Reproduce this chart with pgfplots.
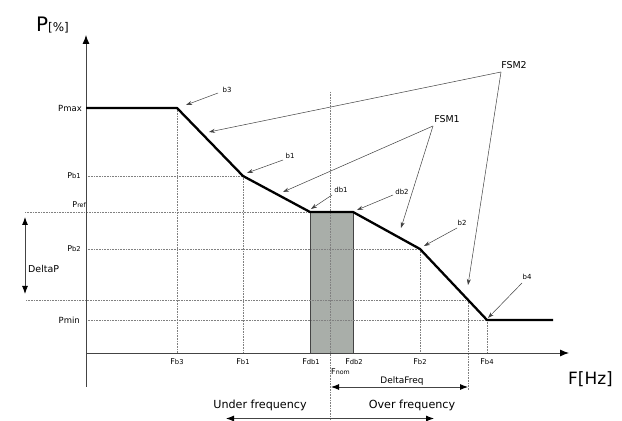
\documentclass[border=0pt]{standalone}
\usepackage{pgfplots}
\pgfplotsset{compat=1.18}
\usepackage{fontspec}
\setmainfont{DejaVu Sans}
\usetikzlibrary{arrows.meta}
\definecolor{rectgray}{HTML}{A9AEA9}
\definecolor{axgray}{HTML}{444444}
\newcommand{\fs}[1]{\fontsize{#1}{#1}\selectfont}
\newcommand{\lab}[2]{{\fs{8}#1}{\fs{6.8}#2}}
\begin{document}
\begin{tikzpicture}
\begin{axis}[name=ax, scale only axis, width=622bp, height=421bp,
  xmin=0, xmax=622, ymin=0, ymax=421, hide axis, clip=false]
% gray dead band rectangle
\addplot[fill=rectgray, draw=axgray, line width=0.8bp] coordinates {(310,68) (353,68) (353,209) (310,209)} -- cycle;
% dotted guide lines
\addplot[gray, densely dotted, line width=0.6bp] coordinates {(86,245) (243,245)};
\addplot[gray, densely dotted, line width=0.6bp] coordinates {(25,209) (310,209)};
\addplot[gray, densely dotted, line width=0.6bp] coordinates {(86,172) (420,172)};
\addplot[gray, densely dotted, line width=0.6bp] coordinates {(26,121) (468,121)};
\addplot[gray, densely dotted, line width=0.6bp] coordinates {(86,101) (487,101)};
\addplot[gray, densely dotted, line width=0.6bp] coordinates {(177,313) (177,68)};
\addplot[gray, densely dotted, line width=0.6bp] coordinates {(243,245) (243,68)};
\addplot[gray, densely dotted, line width=0.6bp] coordinates {(330,329) (330,0)};
\addplot[gray, densely dotted, line width=0.6bp] coordinates {(420,172) (420,68)};
\addplot[gray, densely dotted, line width=0.6bp] coordinates {(468,121) (468,31)};
\addplot[gray, densely dotted, line width=0.6bp] coordinates {(487,101) (487,68)};
% axes
\draw[axgray, line width=0.9bp, -{Latex[length=9bp,width=7bp,black]}] (axis cs:86,34) -- (axis cs:86,386);
\draw[axgray, line width=0.9bp, -{Latex[length=9bp,width=7bp,black]}] (axis cs:86,68) -- (axis cs:569,68);
% characteristic
\addplot[black, line width=2.3bp, line join=round] coordinates {(86,313) (177,313) (243,245) (310,209) (353,209) (420,172) (487,101) (553,101)};
% axis titles
\node[anchor=base west, inner sep=0] at (axis cs:36,389) {{\fs{20}P}{\fs{12}[\%]}};
\node[anchor=base west, inner sep=0] at (axis cs:568,36) {\fs{17}F[Hz]};
% y labels
\node[anchor=east, inner sep=0] at (axis cs:82,313) {\fs{8.5}Pmax};
\node[anchor=east, inner sep=0] at (axis cs:81,245) {\lab{P}{b1}};
\node[anchor=east, inner sep=0] at (axis cs:86,216) {{\fs{8}P}{\fs{6.3}ref}};
\node[anchor=east, inner sep=0] at (axis cs:81,172) {\lab{P}{b2}};
\node[anchor=east, inner sep=0] at (axis cs:80,101) {\fs{8.5}Pmin};
% x labels
\node[inner sep=0] at (axis cs:177,59) {\lab{F}{b3}};
\node[inner sep=0] at (axis cs:243,59) {\lab{F}{b1}};
\node[inner sep=0] at (axis cs:311,59) {\lab{F}{db1}};
\node[inner sep=0] at (axis cs:354,59) {\lab{F}{db2}};
\node[inner sep=0] at (axis cs:420,59) {\lab{F}{b2}};
\node[inner sep=0] at (axis cs:487,59) {\lab{F}{b4}};
\node[anchor=west, inner sep=0] at (axis cs:331,49) {{\fs{8}F}{\fs{6.3}nom}};
% DeltaP
\draw[axgray, line width=0.9bp, {Latex[length=8bp,width=6bp,black]}-{Latex[length=8bp,width=6bp,black]}] (axis cs:25,204) -- (axis cs:25,127);
\node[anchor=west, inner sep=0] at (axis cs:28,152) {\fs{9.5}DeltaP};
% DeltaFreq
\draw[axgray, line width=0.9bp, {Latex[length=8bp,width=6bp,black]}-{Latex[length=8bp,width=6bp,black]}] (axis cs:331,34) -- (axis cs:468,34);
\node[inner sep=0] at (axis cs:402,40) {\fs{9}DeltaFreq};
% under / over frequency
\node[inner sep=0] at (axis cs:260,16) {\fs{11.2}Under frequency};
\node[inner sep=0] at (axis cs:412,16) {\fs{11.2}Over frequency};
\draw[axgray, line width=0.9bp, {Latex[length=8bp,width=6bp,black]}-{Latex[length=8bp,width=6bp,black]}] (axis cs:226,2.5) -- (axis cs:434,2.5);
% annotations
\tikzset{ann/.style={black!75, line width=0.5bp, -{Stealth[length=6bp,width=4bp]}}}
\node[inner sep=0] at (axis cs:227,331) {\fs{7}b3};
\draw[ann] (axis cs:218,328) -- (axis cs:186,316);
\node[inner sep=0] at (axis cs:290,265) {\fs{7}b1};
\draw[ann] (axis cs:283,261) -- (axis cs:247,248);
\node[inner sep=0] at (axis cs:341,231) {\fs{7}db1};
\draw[ann] (axis cs:332,226) -- (axis cs:311,212);
\node[inner sep=0] at (axis cs:402,229) {\fs{7}db2};
\draw[ann] (axis cs:393,226) -- (axis cs:357,211);
\node[inner sep=0] at (axis cs:462,198) {\fs{7}b2};
\draw[ann] (axis cs:457,193) -- (axis cs:424,175);
\node[inner sep=0] at (axis cs:527,144) {\fs{7}b4};
\draw[ann] (axis cs:522,138) -- (axis cs:488,103);
\node[inner sep=0] at (axis cs:447,302) {\fs{9.5}FSM1};
\draw[ann] (axis cs:433,295) -- (axis cs:283,229);
\draw[ann] (axis cs:433,295) -- (axis cs:401,193);
\node[inner sep=0] at (axis cs:514,356) {\fs{9.5}FSM2};
\draw[ann] (axis cs:501,349) -- (axis cs:209,289);
\draw[ann] (axis cs:501,349) -- (axis cs:468,136);
\end{axis}
\pgfresetboundingbox
\path (ax.south west) rectangle (ax.north east);
\end{tikzpicture}
\end{document}
